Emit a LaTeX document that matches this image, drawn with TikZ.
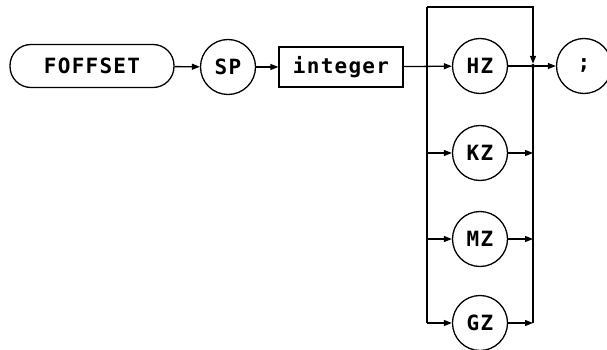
\documentclass[tikz,border=0pt]{standalone}
\usepackage{fontspec}
\newfontfamily\plotfont[LetterSpace=6]{DejaVu Sans Mono}
\usetikzlibrary{arrows.meta}
\tikzset{
  every node/.style={font=\plotfont\bfseries\fontsize{21}{23}\selectfont},
  conn/.style={line width=1.3pt},
  arr/.style={conn,-{Triangle[length=8pt,width=6pt]}},
  circ/.style={draw,circle,line width=1.3pt,minimum size=55pt,inner sep=0pt},
  boxnode/.style={draw,rectangle,line width=1.3pt,minimum width=124pt,minimum height=40pt,inner sep=0pt},
  pill/.style={draw,rectangle,rounded corners=21pt,line width=1.3pt,minimum width=164pt,minimum height=43pt,inner sep=0pt},
  junct/.style={circle,fill,inner sep=0pt,minimum size=4pt}
}
\begin{document}
\begin{tikzpicture}[x=1pt,y=-1pt]
\useasboundingbox (0,0) rectangle (607,350);
\node[pill] (fo) at (92,66) {FOFFSET};
\node[circ] (sp) at (228,67) {SP};
\node[boxnode] (int) at (341,67) {integer};
\node[circ] (hz) at (480,66) {HZ};
\node[circ] (kz) at (480,153) {KZ};
\node[circ] (mz) at (480,239) {MZ};
\node[circ] (gz) at (480,323) {GZ};
\node[circ] (semi) at (584,66) {;};
\coordinate (lt) at (427,7);
\coordinate (rt) at (533,7);
\coordinate (lb) at (427,323);
\coordinate (rb) at (533,323);
\coordinate (lk) at (427,153);
\coordinate (lm) at (427,239);
\coordinate (rk) at (533,153);
\coordinate (rm) at (533,239);
\node[junct] (j) at (533,66) {};
\draw[arr] (fo) -- (sp);
\draw[arr] (sp) -- (int);
\draw[arr] (int) -- (hz);
\draw[conn] (lt) -- (lb);
\draw[arr] (lk) -- (kz);
\draw[arr] (lm) -- (mz);
\draw[arr] (lb) -- (gz);
\draw[conn] (hz) -- (j);
\draw[arr] (kz) -- (rk);
\draw[arr] (mz) -- (rm);
\draw[arr] (gz) -- (rb);
\draw[conn] (rb) -- (j.center);
\draw[arr] (lt) -- (rt) -- (j.north);
\draw[arr] (j) -- (semi);
\end{tikzpicture}
\end{document}
